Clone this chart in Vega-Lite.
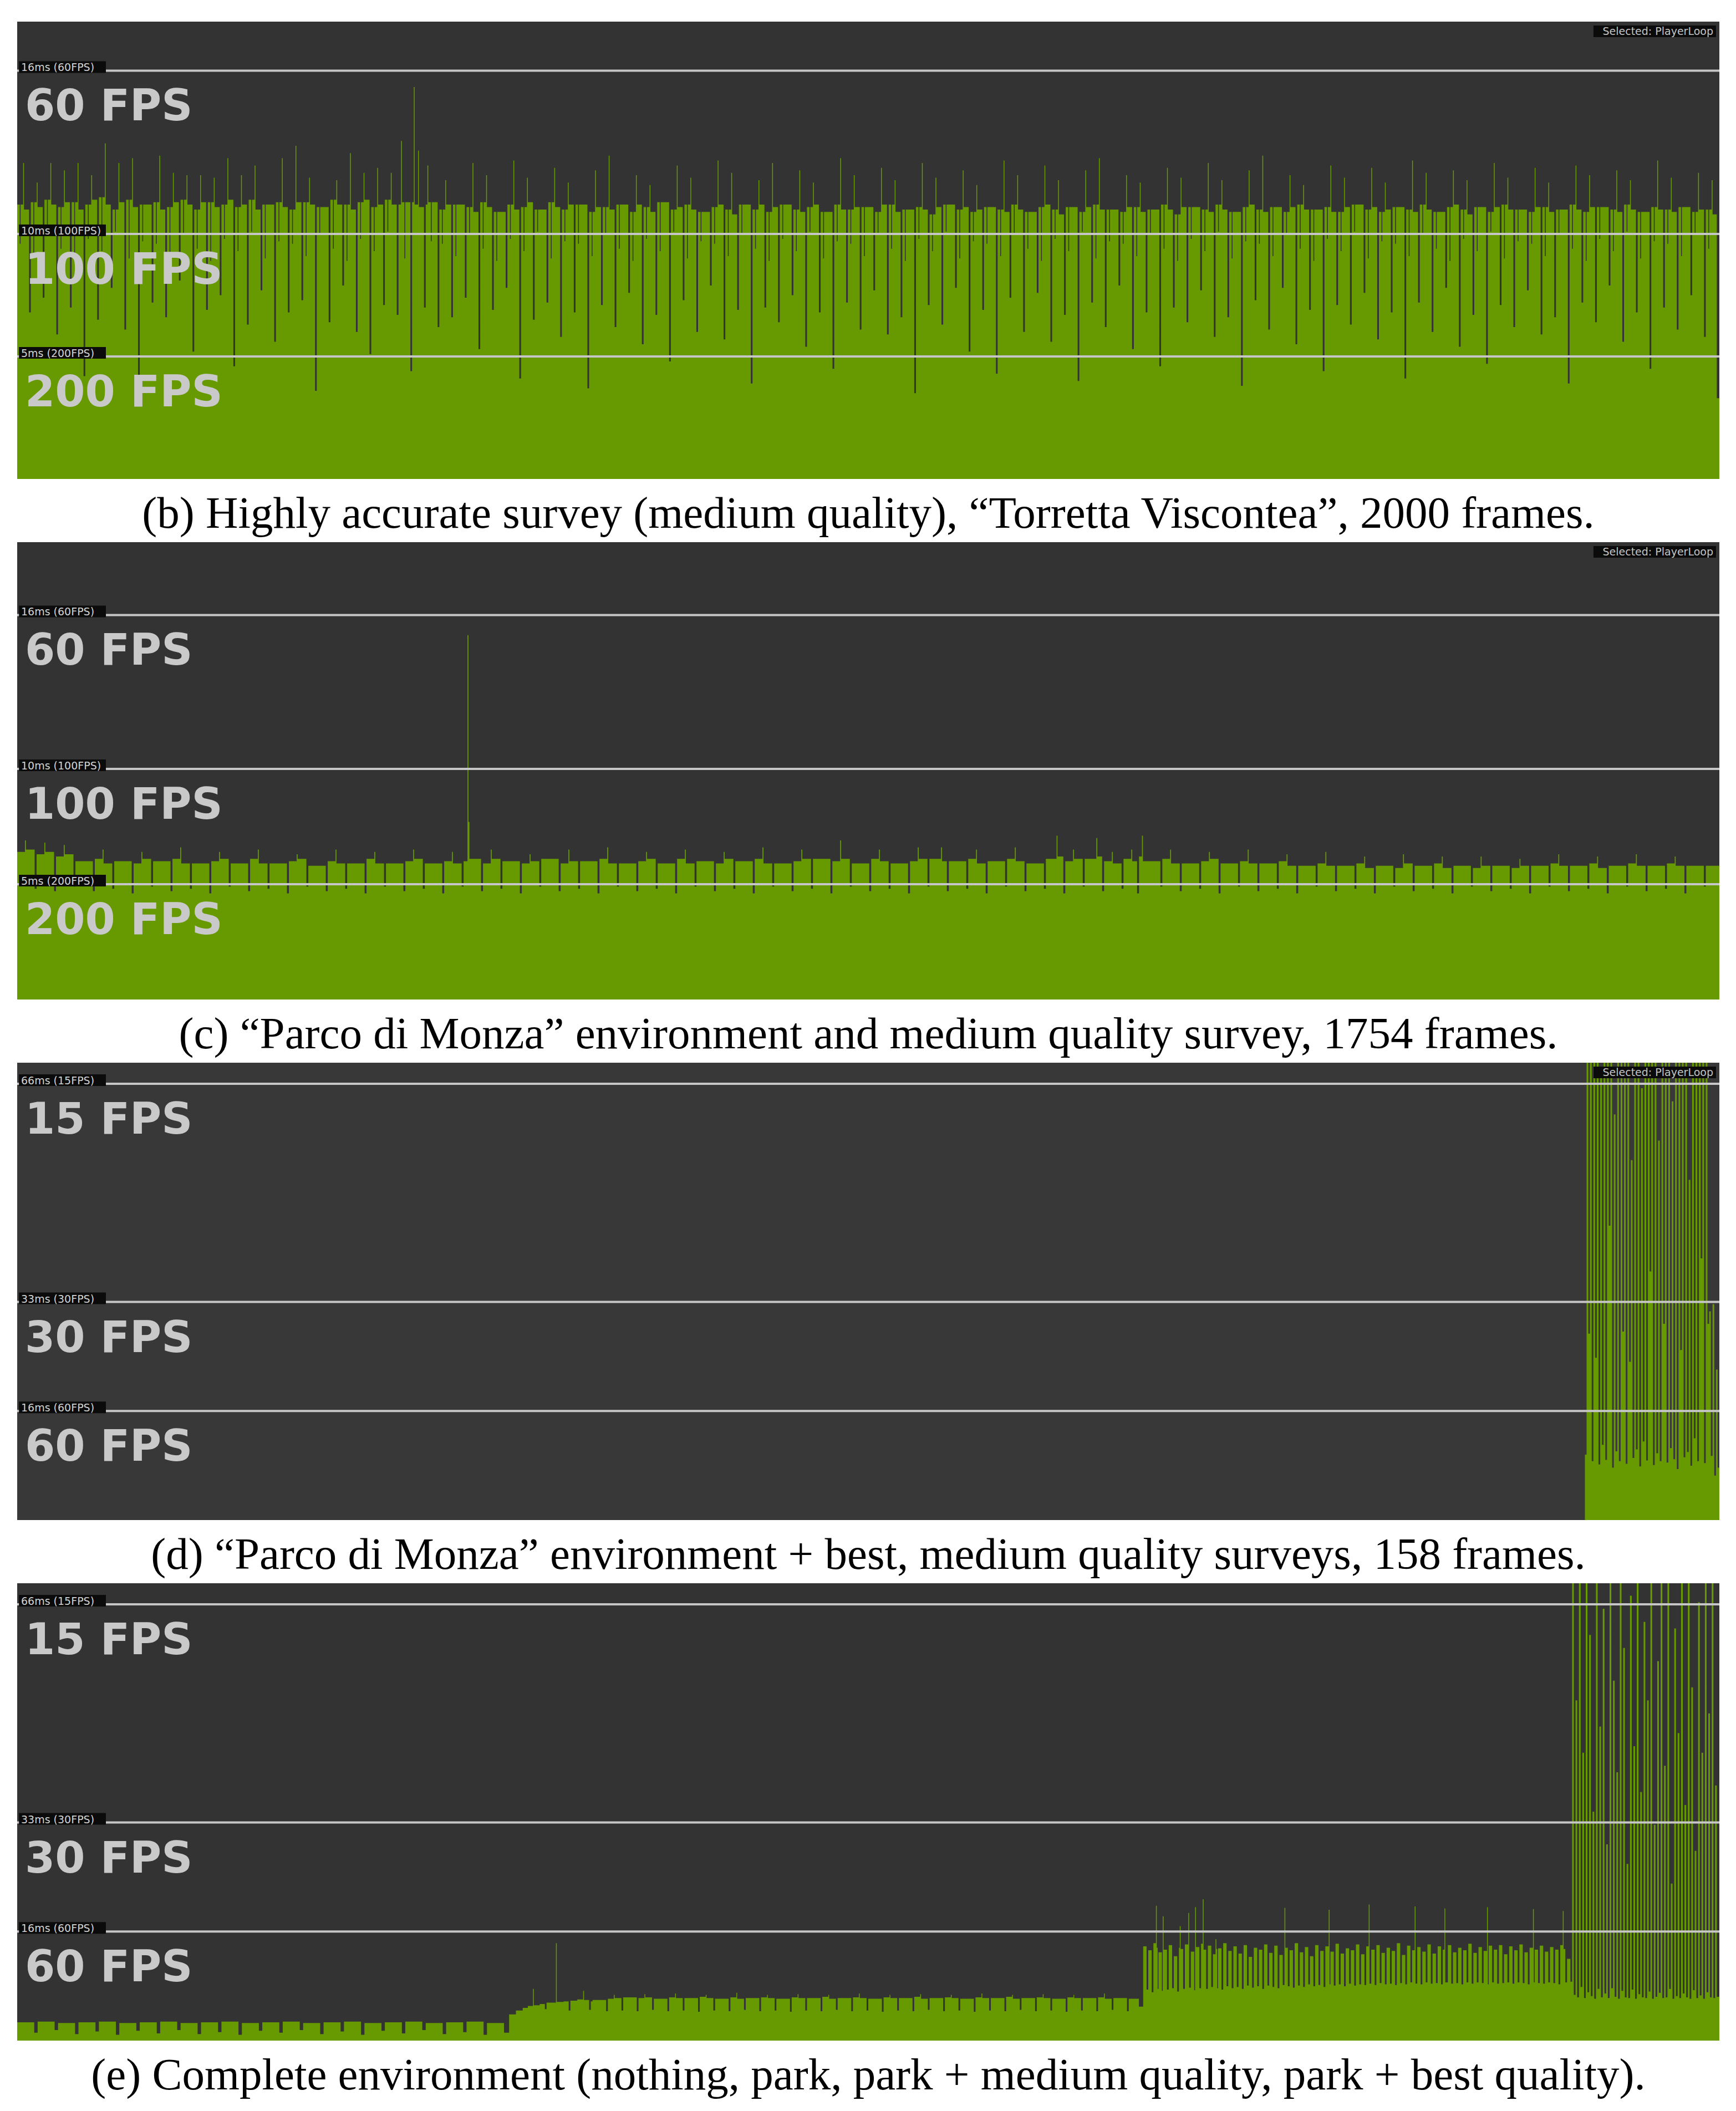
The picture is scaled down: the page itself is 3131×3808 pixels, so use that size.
{
"$schema": "https://vega.github.io/schema/vega-lite/v6.json",
"background": "white",
"padding": {"left": 29, "top": 39, "right": 0, "bottom": 120},
"bounds": "flush",
"spacing": 114,
"config": {"view": {"stroke": null}},
"datasets": {
"gb": [{"ms":16.67,"lab":"16ms (60FPS)","fps":"60 FPS"},{"ms":10,"lab":"10ms (100FPS)","fps":"100 FPS"},{"ms":5,"lab":"5ms (200FPS)","fps":"200 FPS"}],
"ge": [{"ms":66.67,"lab":"66ms (15FPS)","fps":"15 FPS"},{"ms":33.33,"lab":"33ms (30FPS)","fps":"30 FPS"},{"ms":16.67,"lab":"16ms (60FPS)","fps":"60 FPS"}],
"sel": [{"t":"Selected: PlayerLoop"}],
"b": [
{"f":0,"v":11.2},{"f":3,"v":9.6},{"f":4,"v":11.2},{"f":7,"v":12.9},{"f":8,"v":11.0},{"f":14,"v":6.8},
{"f":16,"v":11.3},{"f":19,"v":9.1},{"f":20,"v":11.3},{"f":23,"v":12.1},{"f":24,"v":11.1},{"f":30,"v":7.4},
{"f":32,"v":11.4},{"f":35,"v":10.0},{"f":36,"v":11.4},{"f":39,"v":12.9},{"f":40,"v":11.2},{"f":46,"v":5.9},
{"f":48,"v":11.1},{"f":51,"v":9.4},{"f":52,"v":11.1},{"f":55,"v":12.6},{"f":56,"v":11.3},{"f":62,"v":7.0},
{"f":64,"v":11.3},{"f":67,"v":8.9},{"f":68,"v":11.3},{"f":71,"v":12.9},{"f":72,"v":11.0},{"f":78,"v":4.2},
{"f":80,"v":11.2},{"f":83,"v":9.8},{"f":84,"v":11.2},{"f":87,"v":12.4},{"f":88,"v":11.4},{"f":94,"v":6.5},
{"f":96,"v":11.5},{"f":99,"v":9.3},{"f":100,"v":11.5},{"f":103,"v":13.7},{"f":104,"v":11.2},{"f":110,"v":7.8},
{"f":112,"v":11.0},{"f":115,"v":10.1},{"f":116,"v":11.0},{"f":119,"v":12.9},{"f":120,"v":11.3},{"f":126,"v":6.1},
{"f":128,"v":11.4},{"f":131,"v":9.0},{"f":132,"v":11.4},{"f":135,"v":13.1},{"f":136,"v":11.1},{"f":142,"v":3.8},
{"f":144,"v":11.2},{"f":147,"v":9.7},{"f":148,"v":11.2},{"f":158,"v":7.2},
{"f":160,"v":11.3},{"f":163,"v":9.6},{"f":164,"v":11.3},{"f":167,"v":13.2},{"f":168,"v":11.0},{"f":174,"v":6.6},
{"f":176,"v":11.1},{"f":179,"v":9.1},{"f":180,"v":11.1},{"f":183,"v":12.5},{"f":184,"v":11.3},{"f":190,"v":8.1},
{"f":192,"v":11.4},{"f":195,"v":10.0},{"f":196,"v":11.4},{"f":199,"v":12.4},{"f":200,"v":11.2},{"f":206,"v":5.2},
{"f":208,"v":11.0},{"f":211,"v":9.4},{"f":212,"v":11.0},{"f":215,"v":12.4},{"f":216,"v":11.3},{"f":222,"v":6.9},
{"f":224,"v":11.3},{"f":227,"v":8.9},{"f":228,"v":11.3},{"f":231,"v":12.3},{"f":232,"v":11.1},{"f":238,"v":7.5},
{"f":240,"v":11.2},{"f":243,"v":9.8},{"f":244,"v":11.2},{"f":247,"v":13.1},{"f":248,"v":11.4},{"f":254,"v":4.6},
{"f":256,"v":11.1},{"f":259,"v":9.3},{"f":260,"v":11.1},{"f":263,"v":12.4},{"f":264,"v":11.2},{"f":270,"v":6.3},
{"f":272,"v":11.4},{"f":275,"v":10.1},{"f":276,"v":11.4},{"f":279,"v":12.8},{"f":280,"v":11.0},{"f":286,"v":7.7},
{"f":288,"v":11.2},{"f":291,"v":9.0},{"f":292,"v":11.2},{"f":302,"v":5.6},
{"f":304,"v":11.3},{"f":307,"v":9.7},{"f":308,"v":11.3},{"f":311,"v":13.1},{"f":312,"v":11.1},{"f":318,"v":6.8},
{"f":320,"v":11.0},{"f":323,"v":9.6},{"f":324,"v":11.0},{"f":327,"v":13.6},{"f":328,"v":11.3},{"f":334,"v":7.3},
{"f":336,"v":11.3},{"f":339,"v":9.1},{"f":340,"v":11.3},{"f":343,"v":12.3},{"f":344,"v":11.2},{"f":350,"v":3.6},
{"f":352,"v":11.1},{"f":355,"v":10.0},{"f":356,"v":11.1},{"f":366,"v":6.4},
{"f":368,"v":11.4},{"f":371,"v":9.4},{"f":372,"v":11.4},{"f":375,"v":12.2},{"f":376,"v":11.2},{"f":382,"v":7.9},
{"f":384,"v":11.2},{"f":387,"v":8.9},{"f":388,"v":11.2},{"f":391,"v":13.3},{"f":392,"v":11.0},{"f":398,"v":6.0},
{"f":400,"v":11.3},{"f":403,"v":9.8},{"f":404,"v":11.3},{"f":407,"v":12.5},{"f":408,"v":11.4},{"f":414,"v":5.1},
{"f":416,"v":11.1},{"f":419,"v":9.3},{"f":420,"v":11.1},{"f":423,"v":12.7},{"f":424,"v":11.2},{"f":430,"v":7.1},
{"f":432,"v":11.4},{"f":435,"v":10.1},{"f":436,"v":11.4},{"f":439,"v":12.5},{"f":440,"v":11.2},{"f":446,"v":6.7},
{"f":448,"v":11.2},{"f":451,"v":13.8},{"f":452,"v":11.3},{"f":455,"v":9.0},{"f":456,"v":11.3},{"f":462,"v":4.4},
{"f":464,"v":11.3},{"f":466,"v":16.0},{"f":467,"v":11.2},{"f":471,"v":13.4},{"f":472,"v":11.1},{"f":478,"v":7.0},
{"f":480,"v":11.2},{"f":482,"v":12.8},{"f":483,"v":11.3},{"f":486,"v":9.7},{"f":487,"v":11.3},{"f":494,"v":6.2},
{"f":496,"v":11.0},{"f":499,"v":9.6},{"f":500,"v":11.0},{"f":503,"v":12.2},{"f":504,"v":11.2},{"f":510,"v":6.6},
{"f":512,"v":11.2},{"f":515,"v":9.1},{"f":516,"v":11.2},{"f":526,"v":7.4},
{"f":528,"v":11.1},{"f":531,"v":10.0},{"f":532,"v":11.1},{"f":535,"v":12.9},{"f":536,"v":10.9},{"f":542,"v":5.3},
{"f":544,"v":11.3},{"f":547,"v":9.4},{"f":548,"v":11.3},{"f":551,"v":12.4},{"f":552,"v":11.1},{"f":558,"v":6.9},
{"f":560,"v":10.9},{"f":563,"v":8.9},{"f":564,"v":10.9},{"f":574,"v":7.8},
{"f":576,"v":11.2},{"f":579,"v":9.8},{"f":580,"v":11.2},{"f":583,"v":13.0},{"f":584,"v":11.0},{"f":590,"v":4.1},
{"f":592,"v":11.1},{"f":595,"v":9.3},{"f":596,"v":11.1},{"f":599,"v":12.3},{"f":600,"v":11.3},{"f":606,"v":6.5},
{"f":608,"v":11.0},{"f":611,"v":10.1},{"f":612,"v":11.0},{"f":622,"v":7.2},
{"f":624,"v":11.3},{"f":627,"v":9.0},{"f":628,"v":11.3},{"f":631,"v":12.7},{"f":632,"v":11.1},{"f":638,"v":5.8},
{"f":640,"v":11.0},{"f":643,"v":9.7},{"f":644,"v":11.0},{"f":647,"v":12.1},{"f":648,"v":11.2},{"f":654,"v":6.8},
{"f":656,"v":11.2},{"f":659,"v":9.6},{"f":660,"v":11.2},{"f":670,"v":3.7},
{"f":672,"v":10.9},{"f":675,"v":9.1},{"f":676,"v":10.9},{"f":679,"v":12.6},{"f":680,"v":11.1},{"f":686,"v":7.1},
{"f":688,"v":11.1},{"f":691,"v":10.0},{"f":692,"v":11.1},{"f":695,"v":13.2},{"f":696,"v":11.0},{"f":702,"v":6.2},
{"f":704,"v":11.2},{"f":707,"v":9.4},{"f":708,"v":11.2},{"f":718,"v":7.6},
{"f":720,"v":10.9},{"f":723,"v":8.9},{"f":724,"v":10.9},{"f":727,"v":12.4},{"f":728,"v":11.2},{"f":734,"v":5.5},
{"f":736,"v":11.1},{"f":739,"v":9.8},{"f":740,"v":11.1},{"f":743,"v":12.0},{"f":744,"v":10.9},{"f":750,"v":6.7},
{"f":752,"v":11.3},{"f":755,"v":9.3},{"f":756,"v":11.3},{"f":766,"v":4.8},
{"f":768,"v":11.0},{"f":771,"v":10.1},{"f":772,"v":11.0},{"f":775,"v":12.8},{"f":776,"v":11.1},{"f":782,"v":7.3},
{"f":784,"v":11.2},{"f":787,"v":9.0},{"f":788,"v":11.2},{"f":791,"v":12.3},{"f":792,"v":11.0},{"f":798,"v":6.0},
{"f":800,"v":10.9},{"f":803,"v":9.7},{"f":804,"v":10.9},{"f":814,"v":7.9},
{"f":816,"v":11.1},{"f":819,"v":9.6},{"f":820,"v":11.1},{"f":823,"v":13.0},{"f":824,"v":11.2},{"f":830,"v":5.7},
{"f":832,"v":11.0},{"f":835,"v":9.1},{"f":836,"v":11.0},{"f":839,"v":12.5},{"f":840,"v":10.8},{"f":846,"v":6.9},
{"f":848,"v":11.2},{"f":851,"v":10.0},{"f":852,"v":11.2},{"f":862,"v":3.9},
{"f":864,"v":11.0},{"f":867,"v":9.4},{"f":868,"v":11.0},{"f":871,"v":12.2},{"f":872,"v":11.2},{"f":878,"v":7.0},
{"f":880,"v":10.9},{"f":883,"v":8.9},{"f":884,"v":10.9},{"f":887,"v":12.9},{"f":888,"v":11.1},{"f":894,"v":6.4},
{"f":896,"v":11.2},{"f":899,"v":9.8},{"f":900,"v":11.2},{"f":910,"v":7.5},
{"f":912,"v":11.0},{"f":915,"v":9.3},{"f":916,"v":11.0},{"f":919,"v":12.6},{"f":920,"v":10.9},{"f":926,"v":5.4},
{"f":928,"v":11.1},{"f":931,"v":10.1},{"f":932,"v":11.1},{"f":935,"v":12.1},{"f":936,"v":11.2},{"f":942,"v":6.8},
{"f":944,"v":10.9},{"f":947,"v":9.0},{"f":948,"v":10.9},{"f":958,"v":4.5},
{"f":960,"v":11.2},{"f":963,"v":9.7},{"f":964,"v":11.2},{"f":967,"v":13.1},{"f":968,"v":11.0},{"f":974,"v":7.2},
{"f":976,"v":11.0},{"f":979,"v":9.6},{"f":980,"v":11.0},{"f":983,"v":12.4},{"f":984,"v":11.1},{"f":990,"v":6.1},
{"f":992,"v":11.1},{"f":995,"v":9.1},{"f":996,"v":11.1},{"f":1006,"v":7.7},
{"f":1008,"v":10.9},{"f":1011,"v":10.0},{"f":1012,"v":10.9},{"f":1015,"v":12.7},{"f":1016,"v":11.2},{"f":1022,"v":5.9},
{"f":1024,"v":11.2},{"f":1027,"v":9.4},{"f":1028,"v":11.2},{"f":1031,"v":12.2},{"f":1032,"v":10.9},{"f":1038,"v":6.6},
{"f":1040,"v":11.0},{"f":1043,"v":8.9},{"f":1044,"v":11.0},{"f":1054,"v":3.5},
{"f":1056,"v":11.1},{"f":1059,"v":9.8},{"f":1060,"v":11.1},{"f":1063,"v":12.9},{"f":1064,"v":11.0},{"f":1070,"v":7.1},
{"f":1072,"v":10.8},{"f":1075,"v":9.3},{"f":1076,"v":10.8},{"f":1079,"v":12.3},{"f":1080,"v":11.1},{"f":1086,"v":6.3},
{"f":1088,"v":11.2},{"f":1091,"v":10.1},{"f":1092,"v":11.2},{"f":1102,"v":7.8},
{"f":1104,"v":11.0},{"f":1107,"v":9.0},{"f":1108,"v":11.0},{"f":1111,"v":12.6},{"f":1112,"v":11.1},{"f":1118,"v":5.2},
{"f":1120,"v":10.9},{"f":1123,"v":9.7},{"f":1124,"v":10.9},{"f":1127,"v":12.0},{"f":1128,"v":11.0},{"f":1134,"v":6.9},
{"f":1136,"v":11.1},{"f":1139,"v":9.6},{"f":1140,"v":11.1},{"f":1150,"v":4.3},
{"f":1152,"v":11.0},{"f":1155,"v":9.1},{"f":1156,"v":11.0},{"f":1159,"v":13.0},{"f":1160,"v":10.9},{"f":1166,"v":7.4},
{"f":1168,"v":11.2},{"f":1171,"v":10.0},{"f":1172,"v":11.2},{"f":1175,"v":12.4},{"f":1176,"v":11.0},{"f":1182,"v":6.0},
{"f":1184,"v":10.9},{"f":1187,"v":9.4},{"f":1188,"v":10.9},{"f":1198,"v":7.6},
{"f":1200,"v":11.1},{"f":1203,"v":8.9},{"f":1204,"v":11.1},{"f":1207,"v":12.8},{"f":1208,"v":11.2},{"f":1214,"v":5.6},
{"f":1216,"v":11.0},{"f":1219,"v":9.8},{"f":1220,"v":11.0},{"f":1223,"v":12.2},{"f":1224,"v":10.8},{"f":1230,"v":6.7},
{"f":1232,"v":11.1},{"f":1235,"v":9.3},{"f":1236,"v":11.1},{"f":1246,"v":4.0},
{"f":1248,"v":10.9},{"f":1251,"v":10.1},{"f":1252,"v":10.9},{"f":1255,"v":12.6},{"f":1256,"v":11.1},{"f":1262,"v":7.2},
{"f":1264,"v":11.2},{"f":1267,"v":9.0},{"f":1268,"v":11.2},{"f":1271,"v":13.1},{"f":1272,"v":11.0},{"f":1278,"v":6.2},
{"f":1280,"v":11.0},{"f":1283,"v":9.7},{"f":1284,"v":11.0},{"f":1294,"v":7.9},
{"f":1296,"v":10.9},{"f":1299,"v":9.6},{"f":1300,"v":10.9},{"f":1303,"v":12.4},{"f":1304,"v":11.1},{"f":1310,"v":5.3},
{"f":1312,"v":11.1},{"f":1315,"v":9.1},{"f":1316,"v":11.1},{"f":1319,"v":12.1},{"f":1320,"v":10.9},{"f":1326,"v":6.8},
{"f":1328,"v":11.0},{"f":1331,"v":10.0},{"f":1332,"v":11.0},{"f":1342,"v":4.6},
{"f":1344,"v":11.2},{"f":1347,"v":9.4},{"f":1348,"v":11.2},{"f":1351,"v":12.7},{"f":1352,"v":11.0},{"f":1358,"v":7.0},
{"f":1360,"v":10.8},{"f":1363,"v":8.9},{"f":1364,"v":10.8},{"f":1367,"v":12.3},{"f":1368,"v":11.1},{"f":1374,"v":6.4},
{"f":1376,"v":11.1},{"f":1379,"v":9.8},{"f":1380,"v":11.1},{"f":1390,"v":7.7},
{"f":1392,"v":11.0},{"f":1395,"v":9.3},{"f":1396,"v":11.0},{"f":1399,"v":12.9},{"f":1400,"v":10.9},{"f":1406,"v":5.8},
{"f":1408,"v":11.2},{"f":1411,"v":10.1},{"f":1412,"v":11.2},{"f":1415,"v":12.2},{"f":1416,"v":11.0},{"f":1422,"v":6.6},
{"f":1424,"v":10.9},{"f":1427,"v":9.0},{"f":1428,"v":10.9},{"f":1438,"v":3.8},
{"f":1440,"v":11.1},{"f":1443,"v":9.7},{"f":1444,"v":11.1},{"f":1447,"v":12.6},{"f":1448,"v":11.2},{"f":1454,"v":7.3},
{"f":1456,"v":11.0},{"f":1459,"v":9.6},{"f":1460,"v":11.0},{"f":1463,"v":13.2},{"f":1464,"v":10.9},{"f":1470,"v":6.1},
{"f":1472,"v":11.1},{"f":1475,"v":9.1},{"f":1476,"v":11.1},{"f":1486,"v":7.8},
{"f":1488,"v":10.9},{"f":1491,"v":10.0},{"f":1492,"v":10.9},{"f":1495,"v":12.4},{"f":1496,"v":11.1},{"f":1502,"v":5.5},
{"f":1504,"v":11.2},{"f":1507,"v":9.4},{"f":1508,"v":11.2},{"f":1511,"v":12.0},{"f":1512,"v":11.0},{"f":1518,"v":6.9},
{"f":1520,"v":11.0},{"f":1523,"v":8.9},{"f":1524,"v":11.0},{"f":1534,"v":4.4},
{"f":1536,"v":11.1},{"f":1539,"v":9.8},{"f":1540,"v":11.1},{"f":1543,"v":12.8},{"f":1544,"v":10.9},{"f":1550,"v":7.1},
{"f":1552,"v":10.9},{"f":1555,"v":9.3},{"f":1556,"v":10.9},{"f":1559,"v":12.3},{"f":1560,"v":11.1},{"f":1566,"v":6.3},
{"f":1568,"v":11.2},{"f":1571,"v":10.1},{"f":1572,"v":11.2},{"f":1582,"v":7.6},
{"f":1584,"v":11.0},{"f":1587,"v":9.0},{"f":1588,"v":11.0},{"f":1591,"v":12.7},{"f":1592,"v":11.1},{"f":1598,"v":5.7},
{"f":1600,"v":10.9},{"f":1603,"v":9.7},{"f":1604,"v":10.9},{"f":1607,"v":12.1},{"f":1608,"v":11.0},{"f":1614,"v":6.8},
{"f":1616,"v":11.1},{"f":1619,"v":9.6},{"f":1620,"v":11.1},{"f":1630,"v":4.1},
{"f":1632,"v":11.0},{"f":1635,"v":9.1},{"f":1636,"v":11.0},{"f":1639,"v":13.0},{"f":1640,"v":10.9},{"f":1646,"v":7.2},
{"f":1648,"v":11.2},{"f":1651,"v":10.0},{"f":1652,"v":11.2},{"f":1655,"v":12.5},{"f":1656,"v":11.0},{"f":1662,"v":6.0},
{"f":1664,"v":10.9},{"f":1667,"v":9.4},{"f":1668,"v":10.9},{"f":1678,"v":7.8},
{"f":1680,"v":11.1},{"f":1683,"v":8.9},{"f":1684,"v":11.1},{"f":1687,"v":12.6},{"f":1688,"v":11.2},{"f":1694,"v":5.4},
{"f":1696,"v":11.0},{"f":1699,"v":9.8},{"f":1700,"v":11.0},{"f":1703,"v":12.2},{"f":1704,"v":10.8},{"f":1710,"v":6.7},
{"f":1712,"v":11.1},{"f":1715,"v":9.3},{"f":1716,"v":11.1},{"f":1726,"v":4.7},
{"f":1728,"v":10.9},{"f":1731,"v":10.1},{"f":1732,"v":10.9},{"f":1735,"v":12.9},{"f":1736,"v":11.1},{"f":1742,"v":7.1},
{"f":1744,"v":11.2},{"f":1747,"v":9.0},{"f":1748,"v":11.2},{"f":1751,"v":12.3},{"f":1752,"v":11.0},{"f":1758,"v":6.2},
{"f":1760,"v":11.0},{"f":1763,"v":9.7},{"f":1764,"v":11.0},{"f":1774,"v":7.7},
{"f":1776,"v":10.9},{"f":1779,"v":9.6},{"f":1780,"v":10.9},{"f":1783,"v":12.7},{"f":1784,"v":11.1},{"f":1790,"v":5.9},
{"f":1792,"v":11.1},{"f":1795,"v":9.1},{"f":1796,"v":11.1},{"f":1799,"v":12.1},{"f":1800,"v":10.9},{"f":1806,"v":6.6},
{"f":1808,"v":11.0},{"f":1811,"v":10.0},{"f":1812,"v":11.0},{"f":1822,"v":3.9},
{"f":1824,"v":11.2},{"f":1827,"v":9.4},{"f":1828,"v":11.2},{"f":1831,"v":12.8},{"f":1832,"v":11.0},{"f":1838,"v":7.2},
{"f":1840,"v":10.9},{"f":1843,"v":8.9},{"f":1844,"v":10.9},{"f":1847,"v":12.4},{"f":1848,"v":11.1},{"f":1854,"v":6.4},
{"f":1856,"v":11.1},{"f":1859,"v":9.8},{"f":1860,"v":11.1},{"f":1870,"v":7.9},
{"f":1872,"v":11.0},{"f":1875,"v":9.3},{"f":1876,"v":11.0},{"f":1879,"v":12.6},{"f":1880,"v":10.9},{"f":1886,"v":5.6},
{"f":1888,"v":11.2},{"f":1891,"v":10.1},{"f":1892,"v":11.2},{"f":1895,"v":12.2},{"f":1896,"v":11.0},{"f":1902,"v":6.8},
{"f":1904,"v":10.9},{"f":1907,"v":9.0},{"f":1908,"v":10.9},{"f":1918,"v":4.5},
{"f":1920,"v":11.1},{"f":1923,"v":9.7},{"f":1924,"v":11.1},{"f":1927,"v":13.0},{"f":1928,"v":11.0},{"f":1934,"v":7.0},
{"f":1936,"v":11.0},{"f":1939,"v":9.6},{"f":1940,"v":11.0},{"f":1943,"v":12.3},{"f":1944,"v":10.9},{"f":1950,"v":6.1},
{"f":1952,"v":11.1},{"f":1955,"v":9.1},{"f":1956,"v":11.1},{"f":1966,"v":7.5},
{"f":1968,"v":10.9},{"f":1971,"v":10.0},{"f":1972,"v":10.9},{"f":1975,"v":12.5},{"f":1976,"v":11.0},{"f":1982,"v":5.8},
{"f":1984,"v":11.0},{"f":1987,"v":9.4},{"f":1988,"v":11.0},{"f":1991,"v":12.2},{"f":1992,"v":10.8},{"f":1997,"v":3.3},{"f":2000,"v":3.3}
],
"c": [
{"f":0,"v":6.4},{"f":8,"v":6.9},{"f":9,"v":6.5},{"f":18,"v":4.8},
{"f":20,"v":6.3},{"f":28,"v":6.8},{"f":29,"v":6.4},{"f":38,"v":4.7},
{"f":40,"v":6.2},{"f":48,"v":6.7},{"f":49,"v":6.3},{"f":58,"v":4.9},
{"f":60,"v":6.0},{"f":78,"v":4.7},
{"f":80,"v":6.1},{"f":88,"v":6.5},{"f":89,"v":5.9},{"f":98,"v":4.8},
{"f":100,"v":6.0},{"f":118,"v":4.6},
{"f":120,"v":5.9},{"f":128,"v":6.4},{"f":129,"v":6.1},{"f":138,"v":4.9},
{"f":140,"v":6.0},{"f":158,"v":4.7},
{"f":160,"v":6.1},{"f":168,"v":6.6},{"f":169,"v":5.9},{"f":178,"v":4.8},
{"f":180,"v":5.9},{"f":198,"v":4.6},
{"f":200,"v":6.0},{"f":208,"v":6.4},{"f":209,"v":6.1},{"f":218,"v":4.9},
{"f":220,"v":5.9},{"f":238,"v":4.7},
{"f":240,"v":6.1},{"f":248,"v":6.5},{"f":249,"v":5.9},{"f":258,"v":4.8},
{"f":260,"v":5.9},{"f":278,"v":4.6},
{"f":280,"v":6.0},{"f":288,"v":6.3},{"f":289,"v":6.1},{"f":298,"v":4.9},
{"f":300,"v":5.8},{"f":318,"v":4.7},
{"f":320,"v":6.0},{"f":328,"v":6.5},{"f":329,"v":5.9},{"f":338,"v":4.8},
{"f":340,"v":5.9},{"f":358,"v":4.6},
{"f":360,"v":6.1},{"f":368,"v":6.4},{"f":369,"v":5.9},{"f":378,"v":4.9},
{"f":380,"v":5.9},{"f":398,"v":4.7},
{"f":400,"v":6.0},{"f":408,"v":6.5},{"f":409,"v":6.1},{"f":418,"v":4.8},
{"f":420,"v":5.9},{"f":438,"v":4.6},
{"f":440,"v":6.0},{"f":448,"v":6.4},{"f":449,"v":5.9},{"f":458,"v":4.9},
{"f":460,"v":6.0},{"f":464,"v":15.8},{"f":465,"v":7.7},{"f":466,"v":6.1},{"f":478,"v":4.7},
{"f":480,"v":5.9},{"f":488,"v":6.5},{"f":489,"v":6.1},{"f":498,"v":4.8},
{"f":500,"v":6.0},{"f":518,"v":4.6},
{"f":520,"v":5.9},{"f":528,"v":6.3},{"f":529,"v":6.0},{"f":538,"v":4.9},
{"f":540,"v":6.1},{"f":558,"v":4.7},
{"f":560,"v":5.9},{"f":568,"v":6.5},{"f":569,"v":6.0},{"f":578,"v":4.8},
{"f":580,"v":6.0},{"f":598,"v":4.6},
{"f":600,"v":6.1},{"f":608,"v":6.6},{"f":609,"v":5.9},{"f":618,"v":4.9},
{"f":620,"v":5.9},{"f":638,"v":4.7},
{"f":640,"v":6.0},{"f":648,"v":6.4},{"f":649,"v":6.1},{"f":658,"v":4.8},
{"f":660,"v":5.9},{"f":678,"v":4.6},
{"f":680,"v":6.1},{"f":688,"v":6.5},{"f":689,"v":5.9},{"f":698,"v":4.9},
{"f":700,"v":6.0},{"f":718,"v":4.7},
{"f":720,"v":5.9},{"f":728,"v":6.4},{"f":729,"v":6.1},{"f":738,"v":4.8},
{"f":740,"v":6.0},{"f":758,"v":4.6},
{"f":760,"v":6.1},{"f":768,"v":6.6},{"f":769,"v":5.9},{"f":778,"v":4.9},
{"f":780,"v":5.9},{"f":798,"v":4.7},
{"f":800,"v":6.0},{"f":808,"v":6.5},{"f":809,"v":6.1},{"f":818,"v":4.8},
{"f":820,"v":6.1},{"f":838,"v":4.6},
{"f":840,"v":6.0},{"f":848,"v":6.9},{"f":849,"v":6.1},{"f":858,"v":4.9},
{"f":860,"v":5.9},{"f":878,"v":4.7},
{"f":880,"v":6.1},{"f":888,"v":6.5},{"f":889,"v":6.0},{"f":898,"v":4.8},
{"f":900,"v":5.9},{"f":918,"v":4.6},
{"f":920,"v":6.0},{"f":928,"v":6.6},{"f":929,"v":6.1},{"f":938,"v":4.9},
{"f":940,"v":6.1},{"f":952,"v":6.6},{"f":953,"v":6.0},{"f":958,"v":4.7},
{"f":960,"v":6.0},{"f":978,"v":4.8},
{"f":980,"v":6.1},{"f":988,"v":6.5},{"f":989,"v":5.9},{"f":998,"v":4.6},
{"f":1000,"v":6.0},{"f":1018,"v":4.9},
{"f":1020,"v":6.1},{"f":1028,"v":6.6},{"f":1029,"v":6.0},{"f":1038,"v":4.7},
{"f":1040,"v":5.9},{"f":1058,"v":4.8},
{"f":1060,"v":6.1},{"f":1071,"v":7.1},{"f":1072,"v":6.2},{"f":1078,"v":4.6},
{"f":1080,"v":6.0},{"f":1088,"v":6.5},{"f":1089,"v":6.1},{"f":1098,"v":4.9},
{"f":1100,"v":6.1},{"f":1112,"v":7.0},{"f":1113,"v":6.2},{"f":1118,"v":4.7},
{"f":1120,"v":6.0},{"f":1128,"v":6.4},{"f":1129,"v":5.9},{"f":1138,"v":4.8},
{"f":1140,"v":6.1},{"f":1148,"v":6.5},{"f":1149,"v":6.0},{"f":1154,"v":4.6},{"f":1156,"v":6.2},{"f":1159,"v":7.1},
{"f":1160,"v":6.0},{"f":1178,"v":4.9},
{"f":1180,"v":6.1},{"f":1188,"v":6.5},{"f":1189,"v":5.9},{"f":1198,"v":4.7},
{"f":1200,"v":5.9},{"f":1218,"v":4.8},
{"f":1220,"v":6.0},{"f":1228,"v":6.4},{"f":1229,"v":6.1},{"f":1238,"v":4.6},
{"f":1240,"v":5.9},{"f":1258,"v":4.9},
{"f":1260,"v":6.0},{"f":1268,"v":6.5},{"f":1269,"v":5.9},{"f":1278,"v":4.7},
{"f":1280,"v":5.9},{"f":1298,"v":4.8},
{"f":1300,"v":6.0},{"f":1308,"v":6.3},{"f":1309,"v":5.8},{"f":1318,"v":4.6},
{"f":1320,"v":5.8},{"f":1338,"v":4.9},
{"f":1340,"v":5.9},{"f":1348,"v":6.4},{"f":1349,"v":5.8},{"f":1358,"v":4.7},
{"f":1360,"v":5.8},{"f":1378,"v":4.8},
{"f":1380,"v":5.9},{"f":1388,"v":6.2},{"f":1389,"v":5.7},{"f":1398,"v":4.6},
{"f":1400,"v":5.8},{"f":1418,"v":4.9},
{"f":1420,"v":5.7},{"f":1428,"v":6.3},{"f":1429,"v":5.9},{"f":1438,"v":4.7},
{"f":1440,"v":5.8},{"f":1458,"v":4.8},
{"f":1460,"v":5.9},{"f":1468,"v":6.2},{"f":1469,"v":5.7},{"f":1478,"v":4.6},
{"f":1480,"v":5.8},{"f":1498,"v":4.9},
{"f":1500,"v":5.7},{"f":1508,"v":6.2},{"f":1509,"v":5.8},{"f":1518,"v":4.7},
{"f":1520,"v":5.8},{"f":1538,"v":4.8},
{"f":1540,"v":5.7},{"f":1548,"v":6.1},{"f":1549,"v":5.8},{"f":1558,"v":4.6},
{"f":1560,"v":5.8},{"f":1578,"v":4.9},
{"f":1580,"v":5.9},{"f":1588,"v":6.3},{"f":1589,"v":5.8},{"f":1598,"v":4.7},
{"f":1600,"v":5.8},{"f":1618,"v":4.8},
{"f":1620,"v":5.9},{"f":1628,"v":6.2},{"f":1629,"v":5.7},{"f":1638,"v":4.6},
{"f":1640,"v":5.8},{"f":1658,"v":4.9},
{"f":1660,"v":5.9},{"f":1668,"v":6.3},{"f":1669,"v":5.8},{"f":1678,"v":4.7},
{"f":1680,"v":5.8},{"f":1698,"v":4.8},
{"f":1700,"v":5.9},{"f":1708,"v":6.2},{"f":1709,"v":5.8},{"f":1718,"v":4.6},
{"f":1720,"v":5.8},{"f":1738,"v":4.9},
{"f":1740,"v":5.8},{"f":1754,"v":5.8}
],
"d": [
{"f":1842,"v":10.0},{"f":1844,"v":70},{"f":1846,"v":28.5},{"f":1848,"v":70},{"f":1850,"v":9.0},{"f":1852,"v":70},{"f":1854,"v":24.8},{"f":1856,"v":70},
{"f":1858,"v":8.5},{"f":1860,"v":68},{"f":1862,"v":11.5},{"f":1864,"v":70},{"f":1866,"v":9.2},{"f":1868,"v":70},{"f":1870,"v":45},{"f":1872,"v":70},
{"f":1874,"v":8.0},{"f":1876,"v":62},{"f":1878,"v":10.5},{"f":1880,"v":70},{"f":1882,"v":9.0},{"f":1884,"v":70},{"f":1886,"v":28.8},{"f":1888,"v":70},
{"f":1890,"v":8.6},{"f":1892,"v":70},{"f":1894,"v":24.2},{"f":1896,"v":55},{"f":1898,"v":9.5},{"f":1900,"v":70},{"f":1902,"v":10.8},{"f":1904,"v":70},
{"f":1906,"v":8.2},{"f":1908,"v":66},{"f":1910,"v":12.0},{"f":1912,"v":70},{"f":1914,"v":9.1},{"f":1916,"v":70},{"f":1918,"v":38},{"f":1920,"v":70},
{"f":1922,"v":8.4},{"f":1924,"v":70},{"f":1926,"v":10.2},{"f":1928,"v":58},{"f":1930,"v":9.0},{"f":1932,"v":70},{"f":1934,"v":30},{"f":1936,"v":70},
{"f":1938,"v":8.8},{"f":1940,"v":70},{"f":1942,"v":11.0},{"f":1944,"v":64},{"f":1946,"v":9.3},{"f":1948,"v":70},{"f":1950,"v":7.8},{"f":1952,"v":70},
{"f":1954,"v":26},{"f":1956,"v":70},{"f":1958,"v":9.6},{"f":1960,"v":70},{"f":1962,"v":10.4},{"f":1964,"v":52},{"f":1966,"v":8.3},{"f":1968,"v":70},
{"f":1970,"v":12.5},{"f":1972,"v":70},{"f":1974,"v":9.0},{"f":1976,"v":70},{"f":1978,"v":40},{"f":1980,"v":70},{"f":1982,"v":8.7},{"f":1984,"v":70},
{"f":1986,"v":30},{"f":1988,"v":31.9},{"f":1990,"v":9.8},{"f":1992,"v":33},{"f":1994,"v":6.8},{"f":1996,"v":23},{"f":1998,"v":8.0},{"f":2000,"v":8.0}
],
"e": [
{"f":0,"v":2.8},{"f":20,"v":1.2},{"f":24,"v":2.9},{"f":44,"v":1.6},{"f":48,"v":2.7},{"f":68,"v":1.0},{"f":72,"v":2.8},{"f":92,"v":1.4},
{"f":96,"v":2.9},{"f":116,"v":0.9},{"f":120,"v":2.7},{"f":140,"v":1.5},{"f":144,"v":2.8},{"f":164,"v":1.1},{"f":168,"v":2.9},{"f":188,"v":1.6},
{"f":192,"v":2.7},{"f":212,"v":1.0},{"f":216,"v":2.8},{"f":236,"v":1.3},{"f":240,"v":2.9},{"f":260,"v":0.9},{"f":264,"v":2.7},{"f":284,"v":1.5},
{"f":288,"v":2.8},{"f":308,"v":1.2},{"f":312,"v":2.9},{"f":332,"v":1.6},{"f":336,"v":2.7},{"f":356,"v":1.0},{"f":360,"v":2.8},{"f":380,"v":1.4},
{"f":384,"v":2.9},{"f":404,"v":0.9},{"f":408,"v":2.7},{"f":428,"v":1.5},{"f":432,"v":2.8},{"f":452,"v":1.1},{"f":456,"v":2.9},{"f":476,"v":1.6},
{"f":480,"v":2.7},{"f":500,"v":1.0},{"f":504,"v":2.8},{"f":524,"v":1.3},{"f":528,"v":2.9},{"f":548,"v":0.9},{"f":552,"v":2.7},{"f":572,"v":1.2},
{"f":578,"v":4.0},{"f":586,"v":4.6},{"f":594,"v":5.0},{"f":600,"v":5.3},{"f":606,"v":7.9},{"f":607,"v":5.4},{"f":614,"v":5.6},{"f":620,"v":4.8},
{"f":622,"v":5.8},{"f":633,"v":14.9},{"f":634,"v":5.9},{"f":642,"v":6.0},{"f":648,"v":4.6},{"f":650,"v":6.1},{"f":658,"v":6.3},{"f":665,"v":7.6},
{"f":666,"v":6.2},{"f":672,"v":4.7},{"f":674,"v":6.0},
{"f":676,"v":6.2},{"f":692,"v":4.5},
{"f":694,"v":6.4},{"f":701,"v":7.0},{"f":702,"v":6.5},{"f":710,"v":4.6},
{"f":712,"v":6.6},{"f":728,"v":4.5},
{"f":730,"v":6.5},{"f":737,"v":7.1},{"f":738,"v":6.6},{"f":746,"v":4.7},
{"f":748,"v":6.4},{"f":764,"v":4.5},
{"f":766,"v":6.6},{"f":773,"v":7.2},{"f":774,"v":6.5},{"f":782,"v":4.6},
{"f":784,"v":6.5},{"f":800,"v":4.4},
{"f":802,"v":6.7},{"f":809,"v":7.0},{"f":810,"v":6.5},{"f":818,"v":4.6},
{"f":820,"v":6.4},{"f":836,"v":4.5},
{"f":838,"v":6.6},{"f":845,"v":7.3},{"f":846,"v":6.4},{"f":854,"v":4.7},
{"f":856,"v":6.5},{"f":872,"v":4.5},
{"f":874,"v":6.6},{"f":881,"v":7.0},{"f":882,"v":6.5},{"f":890,"v":4.6},
{"f":892,"v":6.4},{"f":908,"v":4.4},
{"f":910,"v":6.6},{"f":917,"v":7.1},{"f":918,"v":6.5},{"f":926,"v":4.6},
{"f":928,"v":6.5},{"f":944,"v":4.5},
{"f":946,"v":6.7},{"f":953,"v":7.0},{"f":954,"v":6.4},{"f":962,"v":4.7},
{"f":964,"v":6.5},{"f":980,"v":4.5},
{"f":982,"v":6.6},{"f":989,"v":7.2},{"f":990,"v":6.5},{"f":998,"v":4.6},
{"f":1000,"v":6.4},{"f":1016,"v":4.4},
{"f":1018,"v":6.6},{"f":1025,"v":7.0},{"f":1026,"v":6.5},{"f":1034,"v":4.6},
{"f":1036,"v":6.5},{"f":1052,"v":4.5},
{"f":1054,"v":6.7},{"f":1061,"v":7.1},{"f":1062,"v":6.4},{"f":1070,"v":4.7},
{"f":1072,"v":6.5},{"f":1088,"v":4.5},
{"f":1090,"v":6.6},{"f":1097,"v":7.0},{"f":1098,"v":6.5},{"f":1106,"v":4.6},
{"f":1108,"v":6.4},{"f":1124,"v":4.4},
{"f":1126,"v":6.6},{"f":1133,"v":7.2},{"f":1134,"v":6.5},{"f":1142,"v":4.6},
{"f":1144,"v":6.5},{"f":1160,"v":4.5},
{"f":1162,"v":6.7},{"f":1169,"v":7.0},{"f":1170,"v":6.4},{"f":1178,"v":4.7},
{"f":1180,"v":6.5},{"f":1196,"v":4.5},
{"f":1198,"v":6.6},{"f":1205,"v":7.1},{"f":1206,"v":6.5},{"f":1214,"v":4.6},
{"f":1216,"v":6.4},{"f":1232,"v":4.4},
{"f":1234,"v":6.6},{"f":1241,"v":7.0},{"f":1242,"v":6.5},{"f":1250,"v":4.6},
{"f":1252,"v":6.5},{"f":1268,"v":4.5},
{"f":1270,"v":6.6},{"f":1277,"v":7.2},{"f":1278,"v":6.4},{"f":1286,"v":4.7},
{"f":1288,"v":6.5},{"f":1304,"v":4.5},
{"f":1306,"v":6.4},{"f":1318,"v":5.2},
{"f":1323,"v":14.4},{"f":1327,"v":7.8},{"f":1329,"v":13.8},{"f":1333,"v":7.4},{"f":1335,"v":14.9},{"f":1338,"v":20.6},{"f":1339,"v":14.2},{"f":1340,"v":7.9},
{"f":1341,"v":13.5},{"f":1345,"v":7.6},{"f":1346,"v":19.0},{"f":1347,"v":13.9},{"f":1351,"v":7.8},{"f":1353,"v":14.6},{"f":1357,"v":8.0},{"f":1359,"v":12.9},
{"f":1363,"v":7.5},{"f":1365,"v":14.2},{"f":1366,"v":17.5},{"f":1367,"v":14.0},{"f":1370,"v":7.9},{"f":1372,"v":14.7},{"f":1376,"v":19.5},{"f":1377,"v":8.1},
{"f":1379,"v":13.6},{"f":1383,"v":7.7},{"f":1384,"v":20.4},{"f":1385,"v":14.3},{"f":1389,"v":8.0},{"f":1391,"v":14.8},{"f":1393,"v":21.6},{"f":1394,"v":13.9},
{"f":1397,"v":7.9},{"f":1399,"v":14.5},{"f":1403,"v":8.2},{"f":1405,"v":13.2},{"f":1408,"v":15.5},{"f":1409,"v":14.0},{"f":1410,"v":8.0},{"f":1411,"v":14.1},
{"f":1415,"v":7.8},{"f":1417,"v":14.9},{"f":1421,"v":8.3},{"f":1423,"v":13.7},{"f":1427,"v":8.0},{"f":1429,"v":14.4},{"f":1433,"v":8.2},{"f":1435,"v":13.3},
{"f":1439,"v":7.9},{"f":1441,"v":14.6},{"f":1445,"v":8.4},{"f":1447,"v":12.8},{"f":1451,"v":8.1},{"f":1453,"v":14.2},{"f":1457,"v":8.3},{"f":1459,"v":13.9},
{"f":1463,"v":7.9},{"f":1465,"v":14.7},{"f":1469,"v":8.4},{"f":1471,"v":13.4},{"f":1475,"v":8.2},{"f":1477,"v":14.5},{"f":1481,"v":8.0},{"f":1483,"v":13.1},
{"f":1487,"v":8.5},{"f":1489,"v":20.3},{"f":1490,"v":14.2},{"f":1493,"v":8.3},{"f":1495,"v":13.8},{"f":1499,"v":8.1},{"f":1501,"v":14.9},{"f":1505,"v":8.4},
{"f":1507,"v":13.5},{"f":1511,"v":8.2},{"f":1513,"v":14.3},{"f":1517,"v":8.6},{"f":1519,"v":12.9},{"f":1523,"v":8.3},{"f":1525,"v":14.6},{"f":1529,"v":8.5},
{"f":1531,"v":13.7},{"f":1535,"v":8.2},{"f":1537,"v":14.4},{"f":1541,"v":20.0},{"f":1542,"v":8.6},{"f":1543,"v":13.6},{"f":1547,"v":8.4},{"f":1549,"v":14.8},
{"f":1553,"v":8.6},{"f":1555,"v":13.3},{"f":1559,"v":8.3},{"f":1561,"v":14.1},{"f":1565,"v":8.7},{"f":1567,"v":13.8},{"f":1571,"v":8.4},{"f":1573,"v":14.7},
{"f":1577,"v":8.6},{"f":1579,"v":13.2},{"f":1583,"v":8.5},{"f":1585,"v":14.4},{"f":1588,"v":20.8},{"f":1589,"v":8.7},{"f":1591,"v":13.9},{"f":1595,"v":8.5},
{"f":1597,"v":14.6},{"f":1601,"v":8.8},{"f":1603,"v":13.4},{"f":1607,"v":8.6},{"f":1609,"v":14.2},{"f":1613,"v":8.7},{"f":1615,"v":13.7},{"f":1619,"v":8.5},
{"f":1621,"v":14.9},{"f":1625,"v":8.8},{"f":1627,"v":13.1},{"f":1631,"v":8.6},{"f":1633,"v":14.5},{"f":1637,"v":8.9},{"f":1639,"v":13.8},{"f":1642,"v":20.5},
{"f":1643,"v":8.7},{"f":1645,"v":14.3},{"f":1649,"v":8.6},{"f":1651,"v":13.6},{"f":1655,"v":8.9},{"f":1657,"v":14.7},{"f":1661,"v":8.7},{"f":1663,"v":13.3},
{"f":1667,"v":8.8},{"f":1669,"v":14.4},{"f":1673,"v":8.6},{"f":1675,"v":13.9},{"f":1677,"v":20.2},{"f":1678,"v":8.9},{"f":1681,"v":14.6},{"f":1685,"v":8.7},
{"f":1687,"v":13.5},{"f":1691,"v":8.8},{"f":1693,"v":14.2},{"f":1697,"v":8.6},{"f":1699,"v":13.8},{"f":1703,"v":8.9},{"f":1705,"v":14.8},{"f":1709,"v":8.7},
{"f":1711,"v":13.4},{"f":1715,"v":8.9},{"f":1717,"v":14.3},{"f":1721,"v":8.8},{"f":1723,"v":13.7},{"f":1727,"v":20.4},{"f":1728,"v":8.6},{"f":1729,"v":14.5},
{"f":1733,"v":8.9},{"f":1735,"v":13.9},{"f":1739,"v":8.7},{"f":1741,"v":14.6},{"f":1745,"v":8.8},{"f":1747,"v":13.2},{"f":1751,"v":8.9},{"f":1753,"v":14.4},
{"f":1757,"v":8.7},{"f":1759,"v":13.8},{"f":1763,"v":8.9},{"f":1765,"v":14.7},{"f":1769,"v":8.8},{"f":1771,"v":13.5},{"f":1775,"v":8.6},{"f":1777,"v":14.2},
{"f":1781,"v":20.1},{"f":1782,"v":8.9},{"f":1783,"v":13.9},{"f":1787,"v":8.8},{"f":1789,"v":14.5},{"f":1793,"v":8.7},{"f":1795,"v":13.6},{"f":1799,"v":8.9},
{"f":1801,"v":14.3},{"f":1805,"v":8.8},{"f":1807,"v":13.9},{"f":1811,"v":8.6},{"f":1813,"v":14.6},{"f":1816,"v":19.8},{"f":1817,"v":14.0},{"f":1819,"v":8.9},
{"f":1821,"v":12.5},
{"f":1825,"v":9.0},{"f":1827,"v":70},{"f":1829,"v":7.0},{"f":1831,"v":52},{"f":1833,"v":6.6},{"f":1835,"v":70},{"f":1837,"v":8.2},{"f":1839,"v":44},
{"f":1841,"v":6.5},{"f":1843,"v":70},{"f":1845,"v":7.4},{"f":1847,"v":62},{"f":1849,"v":6.8},{"f":1851,"v":35},{"f":1853,"v":6.4},{"f":1855,"v":70},
{"f":1857,"v":7.9},{"f":1859,"v":48},{"f":1861,"v":6.6},{"f":1863,"v":66},{"f":1865,"v":7.2},{"f":1867,"v":30},{"f":1869,"v":6.5},{"f":1871,"v":70},
{"f":1873,"v":8.0},{"f":1875,"v":55},{"f":1877,"v":6.7},{"f":1879,"v":41},{"f":1881,"v":6.4},{"f":1883,"v":70},{"f":1885,"v":7.6},{"f":1887,"v":60},
{"f":1889,"v":6.6},{"f":1891,"v":27},{"f":1893,"v":6.5},{"f":1895,"v":68},{"f":1897,"v":7.8},{"f":1899,"v":45},{"f":1901,"v":6.4},{"f":1903,"v":70},
{"f":1905,"v":7.1},{"f":1907,"v":38},{"f":1909,"v":6.6},{"f":1911,"v":64},{"f":1913,"v":6.5},{"f":1915,"v":52},{"f":1917,"v":7.5},{"f":1919,"v":70},
{"f":1921,"v":6.4},{"f":1923,"v":33},{"f":1925,"v":6.7},{"f":1927,"v":58},{"f":1929,"v":7.3},{"f":1931,"v":70},{"f":1933,"v":6.5},{"f":1935,"v":42},
{"f":1937,"v":6.6},{"f":1939,"v":70},{"f":1941,"v":7.9},{"f":1943,"v":24},{"f":1945,"v":6.4},{"f":1947,"v":63},{"f":1949,"v":6.8},{"f":1951,"v":47},
{"f":1953,"v":6.5},{"f":1955,"v":70},{"f":1957,"v":7.2},{"f":1959,"v":36},{"f":1961,"v":6.6},{"f":1963,"v":70},{"f":1965,"v":6.4},{"f":1967,"v":54},
{"f":1969,"v":7.7},{"f":1971,"v":29},{"f":1973,"v":6.5},{"f":1975,"v":67},{"f":1977,"v":6.9},{"f":1979,"v":44},{"f":1981,"v":6.4},{"f":1983,"v":70},
{"f":1985,"v":7.4},{"f":1987,"v":50},{"f":1989,"v":6.6},{"f":1991,"v":70},{"f":1993,"v":6.5},{"f":1995,"v":39},{"f":1997,"v":6.7},{"f":2000,"v":6.7}
]
},
"vconcat": [
{
"width": 3070, "height": 825,
"view": {"fill": "#333333", "stroke": null},
"title": {"text": "(b) Highly accurate survey (medium quality), “Torretta Viscontea”, 2000 frames.", "orient": "bottom", "anchor": "middle", "frame": "group", "offset": 88, "baseline": "alphabetic", "font": "Liberation Serif", "fontSize": 81, "fontWeight": "normal", "color": "#000000"},
"layer": [
{"data": {"name": "b"}, "mark": {"type": "area", "interpolate": "step-after", "color": "#679a00", "clip": true},
 "encoding": {"x": {"field": "f", "type": "quantitative", "scale": {"domain": [0, 2000], "nice": false, "zero": false}, "axis": null},
              "y": {"field": "v", "type": "quantitative", "scale": {"domain": [0, 18.67], "nice": false}, "axis": null}}},
{"data": {"name": "gb"}, "mark": {"type": "rule", "color": "#c6c6c6", "strokeWidth": 4}, "encoding": {"y": {"field": "ms", "type": "quantitative"}}},
{"data": {"name": "gb"}, "mark": {"type": "point", "shape": "M0.04,-0.2125H2V0.05H0.04Z", "filled": true, "color": "#0b0b0b", "opacity": 1, "size": 25600, "strokeWidth": 0}, "encoding": {"x": {"datum": 0, "type": "quantitative"}, "y": {"field": "ms", "type": "quantitative"}}},
{"data": {"name": "gb"}, "mark": {"type": "text", "align": "left", "baseline": "alphabetic", "dx": 7, "dy": 1, "font": "DejaVu Sans", "fontSize": 19, "color": "#d2d2d2"}, "encoding": {"x": {"datum": 0, "type": "quantitative"}, "y": {"field": "ms", "type": "quantitative"}, "text": {"field": "lab"}}},
{"data": {"name": "gb"}, "mark": {"type": "text", "align": "left", "baseline": "alphabetic", "dx": 14, "dy": 90, "font": "DejaVu Sans", "fontWeight": "bold", "fontSize": 78, "color": "#c9c9c9"}, "encoding": {"x": {"datum": 0, "type": "quantitative"}, "y": {"field": "ms", "type": "quantitative"}, "text": {"field": "fps"}}},
{"data": {"name": "sel"}, "mark": {"type": "point", "shape": "M-2.064,0.064H-0.055V0.255H-2.064Z", "filled": true, "color": "#0b0b0b", "opacity": 1, "size": 48400, "strokeWidth": 0}, "encoding": {"x": {"datum": 2000, "type": "quantitative"}, "y": {"datum": 18.67, "type": "quantitative"}}},
{"data": {"name": "sel"}, "mark": {"type": "text", "align": "right", "baseline": "alphabetic", "dx": -11, "dy": 24, "font": "DejaVu Sans", "fontSize": 19, "color": "#c4c4c4"}, "encoding": {"x": {"datum": 2000, "type": "quantitative"}, "y": {"datum": 18.67, "type": "quantitative"}, "text": {"field": "t"}}}
]
},
{
"width": 3070, "height": 825,
"view": {"fill": "#333333", "stroke": null},
"title": {"text": "(c) “Parco di Monza” environment and medium quality survey, 1754 frames.", "orient": "bottom", "anchor": "middle", "frame": "group", "offset": 88, "baseline": "alphabetic", "font": "Liberation Serif", "fontSize": 81, "fontWeight": "normal", "color": "#000000"},
"layer": [
{"data": {"name": "c"}, "mark": {"type": "area", "interpolate": "step-after", "color": "#679a00", "clip": true},
 "encoding": {"x": {"field": "f", "type": "quantitative", "scale": {"domain": [0, 1754], "nice": false, "zero": false}, "axis": null},
              "y": {"field": "v", "type": "quantitative", "scale": {"domain": [0, 19.83], "nice": false}, "axis": null}}},
{"data": {"name": "gb"}, "mark": {"type": "rule", "color": "#c6c6c6", "strokeWidth": 4}, "encoding": {"y": {"field": "ms", "type": "quantitative"}}},
{"data": {"name": "gb"}, "mark": {"type": "point", "shape": "M0.04,-0.2125H2V0.05H0.04Z", "filled": true, "color": "#0b0b0b", "opacity": 1, "size": 25600, "strokeWidth": 0}, "encoding": {"x": {"datum": 0, "type": "quantitative"}, "y": {"field": "ms", "type": "quantitative"}}},
{"data": {"name": "gb"}, "mark": {"type": "text", "align": "left", "baseline": "alphabetic", "dx": 7, "dy": 1, "font": "DejaVu Sans", "fontSize": 19, "color": "#d2d2d2"}, "encoding": {"x": {"datum": 0, "type": "quantitative"}, "y": {"field": "ms", "type": "quantitative"}, "text": {"field": "lab"}}},
{"data": {"name": "gb"}, "mark": {"type": "text", "align": "left", "baseline": "alphabetic", "dx": 14, "dy": 90, "font": "DejaVu Sans", "fontWeight": "bold", "fontSize": 78, "color": "#c9c9c9"}, "encoding": {"x": {"datum": 0, "type": "quantitative"}, "y": {"field": "ms", "type": "quantitative"}, "text": {"field": "fps"}}},
{"data": {"name": "sel"}, "mark": {"type": "point", "shape": "M-2.064,0.064H-0.055V0.255H-2.064Z", "filled": true, "color": "#0b0b0b", "opacity": 1, "size": 48400, "strokeWidth": 0}, "encoding": {"x": {"datum": 1754, "type": "quantitative"}, "y": {"datum": 19.83, "type": "quantitative"}}},
{"data": {"name": "sel"}, "mark": {"type": "text", "align": "right", "baseline": "alphabetic", "dx": -11, "dy": 24, "font": "DejaVu Sans", "fontSize": 19, "color": "#c4c4c4"}, "encoding": {"x": {"datum": 1754, "type": "quantitative"}, "y": {"datum": 19.83, "type": "quantitative"}, "text": {"field": "t"}}}
]
},
{
"width": 3070, "height": 825,
"view": {"fill": "#383838", "stroke": null},
"title": {"text": "(d) “Parco di Monza” environment + best, medium quality surveys, 158 frames.", "orient": "bottom", "anchor": "middle", "frame": "group", "offset": 88, "baseline": "alphabetic", "font": "Liberation Serif", "fontSize": 81, "fontWeight": "normal", "color": "#000000"},
"layer": [
{"data": {"name": "d"}, "mark": {"type": "area", "interpolate": "step-after", "color": "#679a00", "clip": true},
 "encoding": {"x": {"field": "f", "type": "quantitative", "scale": {"domain": [0, 2000], "nice": false, "zero": false}, "axis": null},
              "y": {"field": "v", "type": "quantitative", "scale": {"domain": [0, 69.9], "nice": false}, "axis": null}}},
{"data": {"name": "ge"}, "mark": {"type": "rule", "color": "#c6c6c6", "strokeWidth": 4}, "encoding": {"y": {"field": "ms", "type": "quantitative"}}},
{"data": {"name": "ge"}, "mark": {"type": "point", "shape": "M0.04,-0.2125H2V0.05H0.04Z", "filled": true, "color": "#0b0b0b", "opacity": 1, "size": 25600, "strokeWidth": 0}, "encoding": {"x": {"datum": 0, "type": "quantitative"}, "y": {"field": "ms", "type": "quantitative"}}},
{"data": {"name": "ge"}, "mark": {"type": "text", "align": "left", "baseline": "alphabetic", "dx": 7, "dy": 1, "font": "DejaVu Sans", "fontSize": 19, "color": "#d2d2d2"}, "encoding": {"x": {"datum": 0, "type": "quantitative"}, "y": {"field": "ms", "type": "quantitative"}, "text": {"field": "lab"}}},
{"data": {"name": "ge"}, "mark": {"type": "text", "align": "left", "baseline": "alphabetic", "dx": 14, "dy": 90, "font": "DejaVu Sans", "fontWeight": "bold", "fontSize": 78, "color": "#c9c9c9"}, "encoding": {"x": {"datum": 0, "type": "quantitative"}, "y": {"field": "ms", "type": "quantitative"}, "text": {"field": "fps"}}},
{"data": {"name": "sel"}, "mark": {"type": "point", "shape": "M-2.064,0.064H-0.055V0.255H-2.064Z", "filled": true, "color": "#0b0b0b", "opacity": 1, "size": 48400, "strokeWidth": 0}, "encoding": {"x": {"datum": 2000, "type": "quantitative"}, "y": {"datum": 69.9, "type": "quantitative"}}},
{"data": {"name": "sel"}, "mark": {"type": "text", "align": "right", "baseline": "alphabetic", "dx": -11, "dy": 24, "font": "DejaVu Sans", "fontSize": 19, "color": "#c4c4c4"}, "encoding": {"x": {"datum": 2000, "type": "quantitative"}, "y": {"datum": 69.9, "type": "quantitative"}, "text": {"field": "t"}}}
]
},
{
"width": 3070, "height": 825,
"view": {"fill": "#333333", "stroke": null},
"title": {"text": "(e) Complete environment (nothing, park, park + medium quality, park + best quality).", "orient": "bottom", "anchor": "middle", "frame": "group", "offset": 88, "baseline": "alphabetic", "font": "Liberation Serif", "fontSize": 81, "fontWeight": "normal", "color": "#000000"},
"layer": [
{"data": {"name": "e"}, "mark": {"type": "area", "interpolate": "step-after", "color": "#679a00", "clip": true},
 "encoding": {"x": {"field": "f", "type": "quantitative", "scale": {"domain": [0, 2000], "nice": false, "zero": false}, "axis": null},
              "y": {"field": "v", "type": "quantitative", "scale": {"domain": [0, 69.9], "nice": false}, "axis": null}}},
{"data": {"name": "ge"}, "mark": {"type": "rule", "color": "#c6c6c6", "strokeWidth": 4}, "encoding": {"y": {"field": "ms", "type": "quantitative"}}},
{"data": {"name": "ge"}, "mark": {"type": "point", "shape": "M0.04,-0.2125H2V0.05H0.04Z", "filled": true, "color": "#0b0b0b", "opacity": 1, "size": 25600, "strokeWidth": 0}, "encoding": {"x": {"datum": 0, "type": "quantitative"}, "y": {"field": "ms", "type": "quantitative"}}},
{"data": {"name": "ge"}, "mark": {"type": "text", "align": "left", "baseline": "alphabetic", "dx": 7, "dy": 1, "font": "DejaVu Sans", "fontSize": 19, "color": "#d2d2d2"}, "encoding": {"x": {"datum": 0, "type": "quantitative"}, "y": {"field": "ms", "type": "quantitative"}, "text": {"field": "lab"}}},
{"data": {"name": "ge"}, "mark": {"type": "text", "align": "left", "baseline": "alphabetic", "dx": 14, "dy": 90, "font": "DejaVu Sans", "fontWeight": "bold", "fontSize": 78, "color": "#c9c9c9"}, "encoding": {"x": {"datum": 0, "type": "quantitative"}, "y": {"field": "ms", "type": "quantitative"}, "text": {"field": "fps"}}}
]
}
]
}
